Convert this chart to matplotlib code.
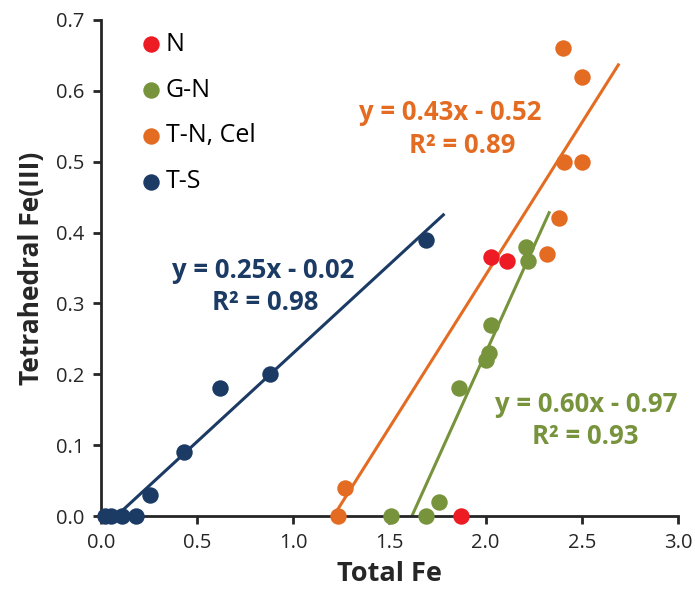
import numpy as np
import matplotlib
matplotlib.use("Agg")
import matplotlib.pyplot as plt

plt.rcParams["font.family"] = ["Open Sans", "DejaVu Sans"]

# series values
n_x = [2.03, 2.11, 1.87]
n_y = [0.366, 0.360, 0.0]

gn_x = [1.51, 1.69, 1.755, 1.86, 2.00, 2.015, 2.03, 2.21, 2.22]
gn_y = [0.0, 0.0, 0.02, 0.18, 0.22, 0.23, 0.27, 0.38, 0.36]

tn_x = [1.23, 1.27, 2.32, 2.38, 2.41, 2.50, 2.50, 2.40]
tn_y = [0.0, 0.04, 0.37, 0.42, 0.50, 0.50, 0.62, 0.66]

ts_x = [0.02, 0.05, 0.11, 0.18, 0.255, 0.43, 0.62, 0.88, 1.69]
ts_y = [0.0, 0.0, 0.0, 0.0, 0.03, 0.09, 0.18, 0.20, 0.39]

# trendlines: slope, intercept, x range
fit_ts = (0.25, -0.02, 0.08, 1.78)
fit_tn = (0.43, -0.52, 1.21, 2.69)
fit_gn = (0.60, -0.97, 1.617, 2.33)

RED = "#ED1C24"
GREEN = "#77933C"
ORANGE = "#E46C22"
NAVY = "#1B3A64"
DARK = "#262626"

fig = plt.figure(figsize=(6.95, 6.06), dpi=100)
ax = fig.add_axes([0.1453, 0.1485, 0.8302, 0.8185])


def trend(fit, color):
    m, b, x0, x1 = fit
    xs = np.array([x0, x1])
    ax.plot(xs, m * xs + b, color=color, lw=2.2, zorder=2)


trend(fit_ts, NAVY)
trend(fit_tn, ORANGE)
trend(fit_gn, GREEN)

s = 140
ax.scatter(n_x, n_y, s=s, color=RED, label="N", zorder=3, clip_on=False, linewidths=0)
ax.scatter(gn_x, gn_y, s=s, color=GREEN, label="G-N", zorder=3, clip_on=False, linewidths=0)
ax.scatter(tn_x, tn_y, s=s, color=ORANGE, label="T-N, Cel", zorder=3, clip_on=False, linewidths=0)
ax.scatter(ts_x, ts_y, s=s, color=NAVY, label="T-S", zorder=3, clip_on=False, linewidths=0)

ax.set_xlim(0, 3.0)
ax.set_ylim(0, 0.7)
ax.set_xticks(np.arange(0, 3.01, 0.5))
ax.set_yticks(np.arange(0, 0.701, 0.1))
ax.xaxis.set_major_formatter(matplotlib.ticker.FormatStrFormatter("%.1f"))
ax.yaxis.set_major_formatter(matplotlib.ticker.FormatStrFormatter("%.1f"))
for sp in ["top", "right"]:
    ax.spines[sp].set_visible(False)
for sp in ["left", "bottom"]:
    ax.spines[sp].set_linewidth(2)
    ax.spines[sp].set_color(DARK)
ax.tick_params(direction="out", length=6, width=2, color=DARK,
               labelsize=14.5, labelcolor=DARK, pad=6)

ax.set_xlabel("Total Fe", fontsize=19.5, fontweight="bold", color=DARK, labelpad=6)
ax.set_ylabel("Tetrahedral Fe(III)", fontsize=19, fontweight="bold", color=DARK, labelpad=8)

eq_kw = dict(fontsize=18.5, fontweight="bold", ha="center", va="center",
             transform=fig.transFigure)
W, H = 695, 606
for txt, px, py, c in [
    ("y = 0.25x - 0.02", 263, 271, NAVY), ("R² = 0.98", 265, 303, NAVY),
    ("y = 0.43x - 0.52", 450, 112, ORANGE), ("R² = 0.89", 462, 145, ORANGE),
    ("y = 0.60x - 0.97", 586, 405, GREEN), ("R² = 0.93", 585, 437, GREEN),
]:
    fig.text(px / W, 1 - py / H, txt, color=c, **eq_kw)

ax.legend(loc="upper left", bbox_to_anchor=(0.065, 0.976), frameon=False,
          fontsize=18, handlelength=1.0, handletextpad=0.1, labelspacing=0.83,
          markerscale=1.0, borderaxespad=0, borderpad=0)

fig.savefig("out.png", dpi=100)
